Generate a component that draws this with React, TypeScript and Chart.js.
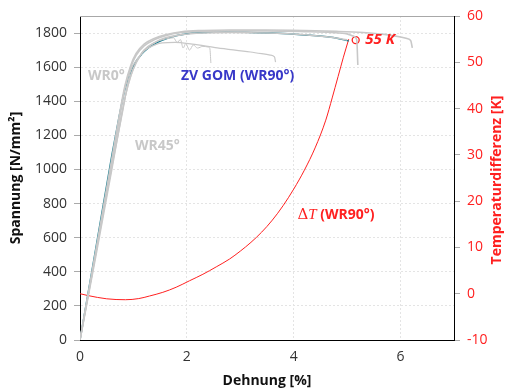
import React, { useEffect, useRef } from "react";
import { Chart, registerables } from "chart.js";

Chart.register(...registerables);

// ---- Data ----
// ZV GOM (WR90°) stress-strain
const gomStrain = [0, 0.3, 0.6, 0.72, 0.84, 0.94, 1.03, 1.15, 1.28, 1.45, 1.65, 1.9, 2.1, 2.4, 2.72, 3.1, 3.6, 4.2, 4.7, 5.03];
const gomStress = [0, 545, 1090, 1290, 1470, 1565, 1625, 1675, 1713, 1745, 1771, 1790, 1800, 1804, 1806, 1804, 1800, 1789, 1775, 1754];

// WR0° specimens
const wr0aStrain = [0, 0.3, 0.6, 0.72, 0.84, 0.95, 1.05, 1.2, 1.4, 1.6, 1.9, 2.3, 2.8, 3.5, 4.2, 4.8, 5.3, 5.7, 6.0, 6.12, 6.19, 6.22];
const wr0aStress = [0, 530, 1070, 1290, 1490, 1610, 1680, 1735, 1770, 1790, 1808, 1815, 1818, 1818, 1815, 1810, 1803, 1792, 1777, 1768, 1755, 1713];
const wr0bStrain = [0, 0.3, 0.6, 0.72, 0.84, 0.95, 1.05, 1.2, 1.4, 1.6, 1.9, 2.3, 2.8, 3.5, 4.2, 4.7, 5.0, 5.12, 5.18, 5.2];
const wr0bStress = [0, 520, 1050, 1270, 1475, 1600, 1670, 1725, 1762, 1785, 1803, 1810, 1812, 1812, 1808, 1803, 1795, 1782, 1760, 1613];
const wr0cStrain = [0, 0.3, 0.6, 0.72, 0.84, 0.95, 1.05, 1.2, 1.4, 1.6, 1.9, 2.3, 2.8, 3.5, 4.2, 4.7, 5.0];
const wr0cStress = [0, 500, 1010, 1220, 1420, 1550, 1625, 1700, 1745, 1772, 1790, 1800, 1803, 1800, 1790, 1775, 1760];

// WR45° specimens
const wr45aStrain = [0, 0.3, 0.6, 0.7, 0.8, 0.94, 1.09, 1.22, 1.38, 1.54, 1.78, 2.1, 2.57, 3.19, 3.56, 3.64, 3.66];
const wr45aStress = [0, 510, 1020, 1180, 1340, 1570, 1655, 1700, 1728, 1742, 1745, 1735, 1713, 1689, 1671, 1660, 1630];
const wr45bStrain = [0, 0.3, 0.6, 0.75, 0.9, 1.05, 1.2, 1.4, 1.6, 1.75, 1.82, 1.88, 1.93, 1.98, 2.05, 2.12, 2.2, 2.3, 2.4, 2.43, 2.45];
const wr45bStress = [0, 515, 1040, 1280, 1490, 1625, 1700, 1745, 1765, 1772, 1745, 1762, 1712, 1738, 1700, 1730, 1712, 1722, 1718, 1710, 1624];

// ΔT (WR90°)
const dtStrain = [0, 0.15, 0.5, 0.85, 1.1, 1.3, 1.55, 1.8, 2.05, 2.3, 2.55, 2.8, 3.0, 3.2, 3.4, 3.6, 3.8, 4.0, 4.2, 4.4, 4.6, 4.72, 4.83, 4.93, 5.03];
const dtTemp = [0, -0.4, -1.1, -1.3, -1.05, -0.5, 0.3, 1.4, 2.8, 4.2, 5.8, 7.5, 9.2, 11.1, 13.3, 15.9, 19.0, 22.6, 26.7, 31.5, 37.5, 42.3, 46.9, 51.1, 55.0];

// max temperature marker
const maxStrain = [5.16];
const maxTemp = [54.8];

// axis ranges / ticks
const strainRange = [0, 7];
const stressRange = [0, 1900];
const tempRange = [-10, 60];

const FONT = "'Open Sans', 'Noto Sans', sans-serif";
const GRAY = "#c8c8c8";
const RED = "#ff2020";

const pts = (xs: number[], ys: number[]) => xs.map((x, i) => ({ x, y: ys[i] }));

const extras = {
  id: "extras",
  afterDatasetsDraw(chart: any) {
    const { ctx, chartArea: a, scales } = chart;
    const X = (v: number) => scales.x.getPixelForValue(v);
    const Y = (v: number) => scales.y.getPixelForValue(v);
    const Y2 = (v: number) => scales.y2.getPixelForValue(v);
    ctx.save();
    // top frame line
    ctx.strokeStyle = "#a8a8a8";
    ctx.lineWidth = 1;
    ctx.beginPath();
    ctx.moveTo(a.left, a.top + 0.5);
    ctx.lineTo(a.right, a.top + 0.5);
    ctx.stroke();

    ctx.textBaseline = "middle";
    ctx.textAlign = "left";
    ctx.font = `bold 14px ${FONT}`;
    ctx.fillStyle = "#c8c8c8";
    ctx.fillText("WR0°", X(0.15), Y(1548));
    ctx.fillText("WR45°", X(1.03), Y(1138));
    ctx.fillStyle = "#3838c8";
    ctx.fillText("ZV GOM (WR90°)", X(1.89), Y(1548));

    // ΔT label
    ctx.fillStyle = RED;
    let x = X(4.07);
    const y = Y2(17);
    ctx.font = `15px 'DejaVu Serif', serif`;
    ctx.fillText("Δ", x, y);
    x += ctx.measureText("Δ").width;
    ctx.font = `italic 15px 'Liberation Serif', serif`;
    ctx.fillText("T", x, y);
    x += ctx.measureText("T").width;
    ctx.font = `bold 14px ${FONT}`;
    ctx.fillText(" (WR90°)", x, y);

    ctx.font = `italic bold 15px ${FONT}`;
    ctx.fillText("55 K", X(5.34), Y2(54.8));

    // right axis title
    ctx.translate(497, (a.top + a.bottom) / 2 + 2);
    ctx.rotate(-Math.PI / 2);
    ctx.textAlign = "center";
    ctx.font = `bold 14px ${FONT}`;
    ctx.fillStyle = RED;
    ctx.fillText("Temperaturdifferenz [K]", 0, 0);
    ctx.restore();
  },
};

export default function App() {
  const ref = useRef<HTMLCanvasElement>(null);
  useEffect(() => {
    if (!ref.current) return;
    const grayDs = (xs: number[], ys: number[], w: number) => ({
      data: pts(xs, ys),
      borderColor: GRAY,
      borderWidth: w,
      pointRadius: 0,
      yAxisID: "y",
      cubicInterpolationMode: "monotone" as const,
    });
    const plain = (v: any) => String(v);
    const chart = new Chart(ref.current, {
      type: "line",
      data: {
        datasets: [
          grayDs(wr45bStrain, wr45bStress, 1),
          grayDs(wr45aStrain, wr45aStress, 1.2),
          grayDs(wr0cStrain, wr0cStress, 1.6),
          grayDs(wr0bStrain, wr0bStress, 1.6),
          grayDs(wr0aStrain, wr0aStress, 1.6),
          {
            data: pts(gomStrain, gomStress),
            borderColor: "#1e7f91",
            borderWidth: 1.5,
            pointRadius: 0,
            yAxisID: "y",
            cubicInterpolationMode: "monotone",
          },
          {
            data: pts(dtStrain, dtTemp),
            borderColor: RED,
            borderWidth: 1,
            pointRadius: 0,
            yAxisID: "y2",
            cubicInterpolationMode: "monotone",
          },
          {
            data: pts(maxStrain, maxTemp),
            showLine: false,
            pointRadius: 3.5,
            pointBorderColor: RED,
            pointBackgroundColor: "#ffffff",
            pointBorderWidth: 1.3,
            yAxisID: "y2",
          },
        ],
      },
      options: {
        responsive: false,
        animation: false,
        layout: { padding: { top: 16, left: 0, right: 0, bottom: 0 } },
        plugins: { legend: { display: false }, tooltip: { enabled: false } },
        scales: {
          x: {
            type: "linear",
            min: strainRange[0],
            max: strainRange[1],
            ticks: { stepSize: 2, includeBounds: false, callback: plain, font: { size: 14, family: FONT }, color: "#333", padding: 9 },
            grid: { color: "#e4e4e4", drawTicks: false },
            border: { color: "#000", width: 1, dash: [2, 2] },
            title: { display: true, text: "Dehnung [%]", font: { size: 14, weight: "bold", family: FONT }, color: "#111", padding: { top: 0, bottom: 0 } },
            afterFit: (s: any) => { s.height = 49; },
          },
          y: {
            type: "linear",
            position: "left",
            min: stressRange[0],
            max: stressRange[1],
            ticks: { stepSize: 200, includeBounds: false, callback: plain, font: { size: 14, family: FONT }, color: "#333", padding: 7 },
            grid: { color: "#e4e4e4", tickLength: 6, tickColor: "#aaa", tickBorderDash: [] },
            border: { color: "#000", width: 1, dash: [2, 2] },
            title: { display: true, text: "Spannung [N/mm²]", font: { size: 14, weight: "bold", family: FONT }, color: "#111", padding: { top: 8, bottom: 0 } },
            afterFit: (s: any) => { s.width = 80; },
          },
          y2: {
            type: "linear",
            position: "right",
            min: tempRange[0],
            max: tempRange[1],
            ticks: { stepSize: 10, callback: plain, font: { size: 14, family: FONT }, color: RED, padding: 7 },
            grid: { drawOnChartArea: false, tickLength: 6, tickColor: "#aaa", tickBorderDash: [] },
            border: { color: "#000", width: 1 },
            afterFit: (s: any) => { s.width = 54; },
          },
        },
      },
      plugins: [extras],
    });
    return () => chart.destroy();
  }, []);
  return (
    <div style={{ position: "absolute", left: 0, top: 0, width: 508, height: 389, background: "#fff" }}>
      <canvas ref={ref} width={508} height={389} />
    </div>
  );
}
